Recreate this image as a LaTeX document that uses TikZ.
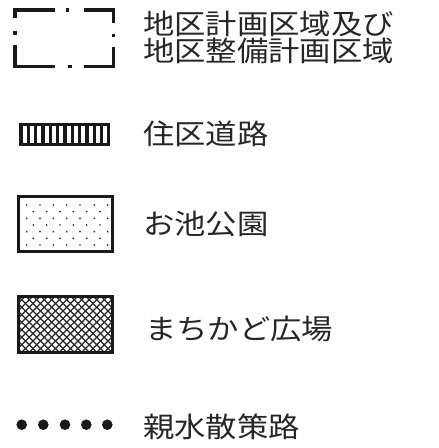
\documentclass[tikz,border=0pt]{standalone}
\usepackage{fontspec}
\newfontfamily\jpfont[FakeStretch=1.12]{Noto Sans CJK JP}
\tikzset{
  label text/.style={anchor=base west, inner sep=0pt, font=\jpfont\fontsize{28}{30}\selectfont, text=black!85},
  frame/.style={line width=3pt, draw=black!90},
  dashpart/.style={line width=3.5pt, line cap=butt, draw=black!90},
  hatch/.style={line width=1.2pt, draw=black!85},
}
\begin{document}
\begin{tikzpicture}[x=1pt,y=-1pt]
\useasboundingbox (0,0) rectangle (439,448);
% --- dashed boundary symbol
\draw[dashpart] (15,18) -- (15,10) -- (55,10);
\draw[dashpart] (65.5,10) -- (69,10);
\draw[dashpart] (84,10) -- (113.5,10) -- (113.5,23);
\draw[dashpart] (113.5,33.5) -- (113.5,37);
\draw[dashpart] (113.5,47) -- (113.5,66.5) -- (84,66.5);
\draw[dashpart] (68,66.5) -- (71.5,66.5);
\draw[dashpart] (55,66.5) -- (15,66.5) -- (15,45);
\draw[dashpart] (15,31) -- (15,34.5);
\node[label text] (t1) at (143,34.6) {地区計画区域及び};
\node[label text] (t2) at (143,61.6) {地区整備計画区域};
% --- road symbol
\fill[black!90] (19,123) rectangle (110,145.5);
\foreach \i in {0,...,11} {
  \fill[white] ({22.6+7.35*\i},126) rectangle ({26.6+7.35*\i},142.5);
}
\node[label text] (t3) at (143,144.6) {住区道路};
% --- pond / park symbol
\foreach \r in {0,2,4,6} {
  \foreach \x in {26.7,40,53.3,66.7,80,94.3,107.7} {
    \fill[black!85] (\x,{205+6.67*\r}) circle (0.95);
  }
}
\foreach \r in {1,3,5} {
  \foreach \x in {33.3,46.7,60,73.3,86.7,100} {
    \fill[black!85] (\x,{205+6.67*\r}) circle (0.95);
  }
}
\draw[frame] (18,196) rectangle (112,251);
\node[label text] (t4) at (143,234.6) {お池公園};
% --- plaza symbol
\begin{scope}
  \clip (18,296) rectangle (112,352);
  \foreach \k in {-10,...,25} {
    \draw[hatch] ({18+7.5*\k},296) -- ({18+7.5*\k+60},356);
    \draw[hatch] ({18+7.5*\k},296) -- ({18+7.5*\k-60},356);
  }
\end{scope}
\draw[frame] (18,296) rectangle (112,352);
\node[label text] (t5) at (145,339.6) {まちかど広場};
% --- waterside walk symbol
\foreach \x in {21.7,43.3,65,86.3,107.3} {
  \fill[black!90] (\x,424.7) circle (5.3);
}
\node[label text] (t6) at (143,437.6) {親水散策路};
\end{tikzpicture}
\end{document}
